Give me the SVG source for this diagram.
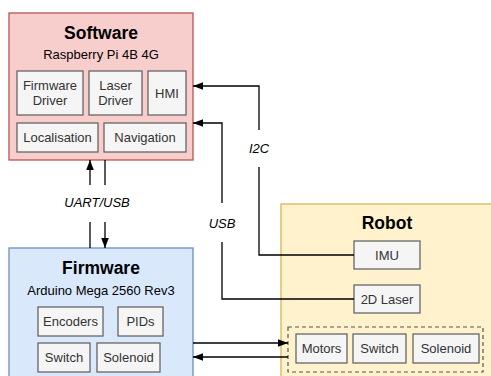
<svg xmlns="http://www.w3.org/2000/svg" width="491" height="376" viewBox="0 0 491 376">
  <style>
    text { font-family: "Liberation Sans", Arial, sans-serif; text-anchor: middle; }
    .title { font-size: 17.5px; font-weight: bold; fill: #000; }
    .sub { font-size: 13px; fill: #000; }
    .item { fill: #f5f5f5; stroke: #666666; stroke-width: 1.3; }
    .itemtxt { font-size: 13px; fill: #333333; }
    .lbl { font-size: 13px; font-style: italic; fill: #000; }
    .wire { fill: none; stroke: #000; stroke-width: 1.3; }
  </style>
  <defs>
    <marker id="head" markerUnits="userSpaceOnUse" markerWidth="10" markerHeight="10" viewBox="0 0 10 10" refX="10" refY="5" orient="auto">
      <path d="M0,1.2 L10,5 L0,8.8 Z" fill="#000"/>
    </marker>
  </defs>

  <rect width="491" height="376" fill="#ffffff"/>

  <!-- Software container -->
  <g id="software">
    <rect x="9" y="13" width="184" height="147" fill="#f8cecc" stroke="#b85450" stroke-width="1.3"/>
    <text class="title" x="101" y="39">Software</text>
    <text class="sub" x="101" y="59">Raspberry Pi 4B 4G</text>
    <g id="firmware-driver">
      <rect class="item" x="17" y="71" width="66" height="44"/>
      <text class="itemtxt" x="50" y="90">Firmware</text>
      <text class="itemtxt" x="50" y="105">Driver</text>
    </g>
    <g id="laser-driver">
      <rect class="item" x="89" y="71" width="53" height="44"/>
      <text class="itemtxt" x="115.5" y="90">Laser</text>
      <text class="itemtxt" x="115.5" y="105">Driver</text>
    </g>
    <g id="hmi">
      <rect class="item" x="148" y="71" width="38" height="44"/>
      <text class="itemtxt" x="167" y="97.5">HMI</text>
    </g>
    <g id="localisation">
      <rect class="item" x="17" y="123" width="81" height="29"/>
      <text class="itemtxt" x="57.5" y="142">Localisation</text>
    </g>
    <g id="navigation">
      <rect class="item" x="104" y="123" width="82" height="29"/>
      <text class="itemtxt" x="145" y="142">Navigation</text>
    </g>
  </g>

  <!-- Firmware container -->
  <g id="firmware">
    <rect x="9" y="248" width="184" height="140" fill="#dae8fc" stroke="#6c8ebf" stroke-width="1.3"/>
    <text class="title" x="101" y="274">Firmware</text>
    <text class="sub" x="101" y="295">Arduino Mega 2560 Rev3</text>
    <g id="encoders">
      <rect class="item" x="38" y="307" width="65" height="29"/>
      <text class="itemtxt" x="70.5" y="326">Encoders</text>
    </g>
    <g id="pids">
      <rect class="item" x="118" y="307" width="45" height="29"/>
      <text class="itemtxt" x="140.5" y="326">PIDs</text>
    </g>
    <g id="fw-switch">
      <rect class="item" x="38" y="343" width="52" height="29"/>
      <text class="itemtxt" x="64" y="362">Switch</text>
    </g>
    <g id="fw-solenoid">
      <rect class="item" x="97" y="343" width="63" height="29"/>
      <text class="itemtxt" x="128.5" y="362">Solenoid</text>
    </g>
  </g>

  <!-- Robot container -->
  <g id="robot">
    <rect x="281" y="204" width="220" height="190" fill="#fff2cc" stroke="#d6b656" stroke-width="1.3"/>
    <text class="title" x="387" y="229">Robot</text>
    <g id="imu">
      <rect class="item" x="354" y="241" width="66" height="28"/>
      <text class="itemtxt" x="387" y="259.5">IMU</text>
    </g>
    <g id="laser">
      <rect class="item" x="354" y="285" width="66" height="28"/>
      <text class="itemtxt" x="387" y="303.5">2D Laser</text>
    </g>
    <g id="actuators">
      <rect x="288" y="327" width="195" height="45" fill="none" stroke="#555555" stroke-width="1.2" stroke-dasharray="4 3"/>
      <g id="motors">
        <rect class="item" x="296" y="334" width="51" height="29"/>
        <text class="itemtxt" x="321.5" y="353">Motors</text>
      </g>
      <g id="rb-switch">
        <rect class="item" x="353" y="334" width="53" height="29"/>
        <text class="itemtxt" x="379.5" y="353">Switch</text>
      </g>
      <g id="rb-solenoid">
        <rect class="item" x="413" y="334" width="66" height="29"/>
        <text class="itemtxt" x="446" y="353">Solenoid</text>
      </g>
    </g>
  </g>

  <!-- Connectors -->
  <g id="connectors">
    <!-- UART/USB link between firmware and software -->
    <path class="wire" d="M90,248 V222"/>
    <path class="wire" d="M90,185 V160" marker-end="url(#head)"/>
    <path class="wire" d="M105,160 V185"/>
    <path class="wire" d="M105,222 V248" marker-end="url(#head)"/>
    <text class="lbl" x="97" y="206.5">UART/USB</text>

    <!-- IMU over I2C -->
    <path class="wire" d="M354,255 H259 V167"/>
    <path class="wire" d="M259,130 V86 H193" marker-end="url(#head)"/>
    <text class="lbl" x="259" y="152.5">I2C</text>

    <!-- 2D laser over USB -->
    <path class="wire" d="M354,299 H222 V242"/>
    <path class="wire" d="M222,203 V123 H193" marker-end="url(#head)"/>
    <text class="lbl" x="222" y="227.5">USB</text>

    <!-- Firmware to/from actuators -->
    <path class="wire" d="M193,343 H288" marker-end="url(#head)"/>
    <path class="wire" d="M288,357 H193" marker-end="url(#head)"/>
  </g>
</svg>
